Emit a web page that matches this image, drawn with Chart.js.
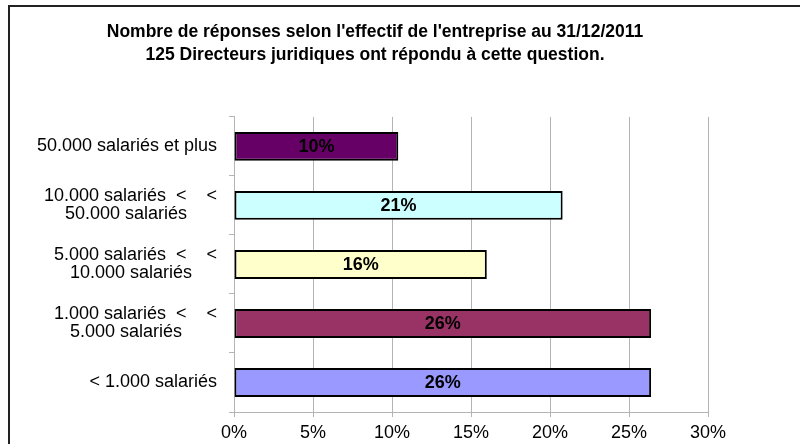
<!DOCTYPE html>
<html>
<head>
<meta charset="utf-8">
<script src="https://cdn.jsdelivr.net/npm/chart.js@4/dist/chart.umd.min.js"></script>
<style>
  body { margin: 0; background: #fff; }
  #frame { position: absolute; left: 8px; top: 5px; width: 800px; height: 460px;
           border-left: 2px solid #222; border-top: 2px solid #222; }
  #wrap { position: absolute; left: 0; top: 0; width: 750px; height: 444px; }
</style>
</head>
<body>
<div id="frame"></div>
<div id="wrap"><canvas id="hitcanvas"></canvas></div>
<script>
var categories = [
	"50.000 salariés et plus",
	["10.000 salariés  <    <", "50.000 salariés      "],
	["5.000 salariés  <    <", "10.000 salariés     "],
	["1.000 salariés  <    <", "5.000 salariés       "],
	"< 1.000 salariés"
];
var values = [10.4, 20.8, 16.0, 26.4, 26.4];
var barColors = ["#660066", "#CCFFFF", "#FFFFCC", "#993366", "#9999FF"];
var titleLines = [
	"Nombre de réponses selon l'effectif de l'entreprise au 31/12/2011",
	"125 Directeurs juridiques ont répondu à cette question."
];

var fontFam = "'Liberation Sans', Arial, sans-serif";

// writes the percentage in the middle of each bar
var barLabels = {
	id: 'barLabels',
	afterDatasetsDraw: function(chart) {
		var ctx = chart.ctx;
		var meta = chart.getDatasetMeta(0);
		ctx.save();
		ctx.font = "bold 18px " + fontFam;
		ctx.fillStyle = "#000";
		ctx.textAlign = "center";
		ctx.textBaseline = "middle";
		meta.data.forEach(function(bar, i) {
			var x = (bar.base + bar.x) / 2;
			ctx.fillText(Math.round(values[i]) + "%", x, bar.y + 1);
		});
		ctx.restore();
	}
};

window.onload = function(){
	var ctx = document.getElementById("hitcanvas").getContext("2d");
	window.myBar = new Chart(ctx, {
		type: 'bar',
		data: {
			labels: categories,
			datasets: [{
				data: values,
				backgroundColor: barColors,
				borderColor: '#000',
				borderWidth: 2,
				borderSkipped: false,
				barPercentage: 0.49,
				categoryPercentage: 1
			}]
		},
		plugins: [barLabels],
		options: {
			indexAxis: 'y',
			responsive: true,
			maintainAspectRatio: false,
			animation: false,
			layout: { padding: 0 },
			plugins: {
				legend: { display: false },
				tooltip: { enabled: false },
				title: {
					display: true,
					text: titleLines,
					color: '#000',
					font: { family: fontFam, size: 17.5, weight: 'bold', lineHeight: 1.31 },
					padding: { top: 21, bottom: 50 }
				}
			},
			scales: {
				x: {
					min: 0,
					max: 30,
					ticks: {
						stepSize: 5,
						color: '#000',
						padding: 5,
						font: { family: fontFam, size: 18 },
						callback: function(v) { return v + '%'; }
					},
					grid: { color: '#b4b4b4', lineWidth: 1, tickLength: 5 },
					border: { color: '#b4b4b4', width: 1 },
					afterFit: function(s) { s.height = 32; s.paddingRight = 42; }
				},
				y: {
					ticks: {
						color: '#000',
						padding: 12,
						font: { family: fontFam, size: 18, lineHeight: 1.0 }
					},
					grid: { drawOnChartArea: false, drawTicks: true, tickLength: 5, color: '#b4b4b4', offset: true },
					border: { color: '#b4b4b4', width: 1 },
					afterFit: function(s) { s.width = 234; }
				}
			}
		}
	});
}
</script>
</body>
</html>
